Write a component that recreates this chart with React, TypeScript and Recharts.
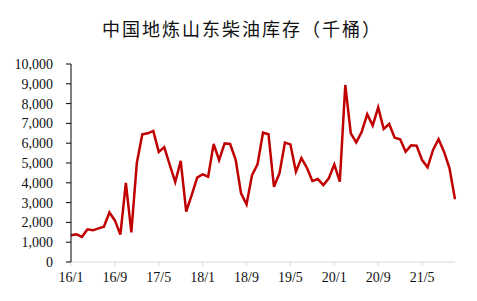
import { LineChart, Line, XAxis, YAxis } from "recharts";

// monthly, 2016/1 - 2021/11
const months = [
    "16/1", "16/2", "16/3", "16/4", "16/5", "16/6", "16/7", "16/8", "16/9", "16/10", "16/11", "16/12",
    "17/1", "17/2", "17/3", "17/4", "17/5", "17/6", "17/7", "17/8", "17/9", "17/10", "17/11", "17/12",
    "18/1", "18/2", "18/3", "18/4", "18/5", "18/6", "18/7", "18/8", "18/9", "18/10", "18/11", "18/12",
    "19/1", "19/2", "19/3", "19/4", "19/5", "19/6", "19/7", "19/8", "19/9", "19/10", "19/11", "19/12",
    "20/1", "20/2", "20/3", "20/4", "20/5", "20/6", "20/7", "20/8", "20/9", "20/10", "20/11", "20/12",
    "21/1", "21/2", "21/3", "21/4", "21/5", "21/6", "21/7", "21/8", "21/9", "21/10", "21/11",
];

// 千桶
const inventory = [
    1350, 1400, 1270, 1650, 1600, 1700, 1780, 2500, 2100, 1380, 4000, 1500,
    5000, 6450, 6500, 6620, 5560, 5800, 4900, 4040, 5110, 2550, 3380, 4260,
    4430, 4310, 5960, 5150, 5990, 5960, 5190, 3470, 2910, 4390, 4930, 6530,
    6450, 3800, 4480, 6030, 5940, 4560, 5250, 4760, 4090, 4190, 3890, 4230,
    4930, 4060, 8940, 6500, 6040, 6580, 7470, 6890, 7810, 6720, 6970, 6280,
    6200, 5570, 5890, 5870, 5150, 4780, 5660, 6200, 5570, 4730, 3170,
];

const yTicks = [0, 1000, 2000, 3000, 4000, 5000, 6000, 7000, 8000, 9000, 10000];

const title = "中国地炼山东柴油库存（千桶）";

export default function App() {

    const data = months.map((m, i) => ({ month: m, value: inventory[i] }));

    return (
        <div style={{ position: "absolute", left: 0, top: 0, width: 477, height: 301, background: "#fff" }}>
            <div style={{
                position: "absolute", left: 6, top: 15, width: 472, textAlign: "center",
                fontFamily: "Noto Sans CJK SC", fontSize: 18, color: "#111", letterSpacing: 2,
            }}>
                {title}
            </div>
            <LineChart
                width={477}
                height={301}
                data={data}
                style={{ position: "absolute", left: 0, top: 0, fontFamily: "Liberation Serif, serif" }}
                margin={{ top: 64, right: 22, bottom: 0, left: 0 }}>
                <XAxis
                    dataKey="month"
                    interval={7}
                    height={39}
                    tickSize={4}
                    tickMargin={6}
                    stroke="#d9d9d9"
                    tick={{ fill: "#111", fontSize: 14, fontFamily: "Liberation Serif, serif" }} />
                <YAxis
                    width={71}
                    domain={[0, 10000]}
                    ticks={yTicks}
                    interval={0}
                    tickSize={5}
                    tickMargin={13}
                    stroke="#000"
                    tickFormatter={(v: number) => v.toLocaleString("en-US")}
                    tick={{ fill: "#111", fontSize: 14, fontFamily: "Liberation Serif, serif" }} />
                <Line
                    isAnimationActive={false}
                    dataKey="value"
                    stroke="#c00000"
                    strokeWidth={2.5}
                    dot={false}
                    type="linear" />
            </LineChart>
        </div>
    );
}
